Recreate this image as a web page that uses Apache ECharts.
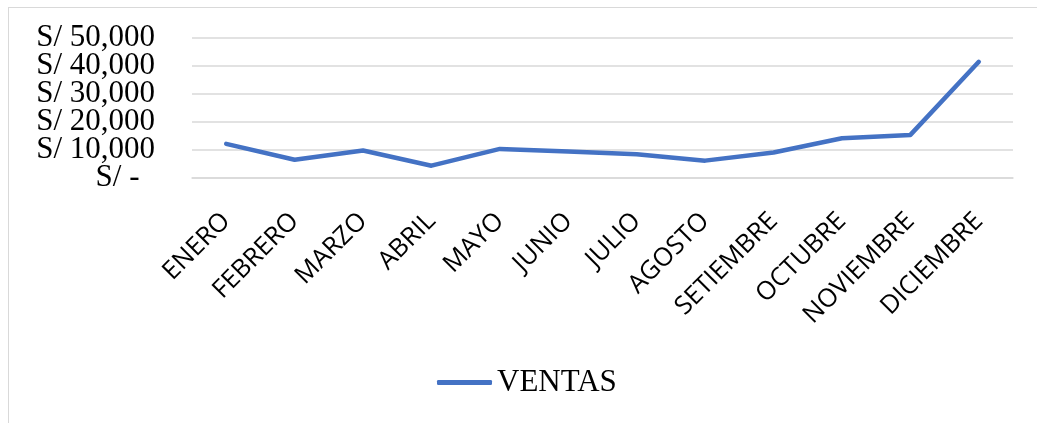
<!DOCTYPE html>
<html>
<head>
<meta charset="utf-8">
<script src="https://cdn.jsdelivr.net/npm/echarts@6/dist/echarts.min.js"></script>
<style>
  html, body { margin: 0; padding: 0; background: #fff; }
  #frame { position: absolute; left: 8px; top: 7px; right: 0; bottom: 0;
           border-top: 1.5px solid #d9d9d9; border-left: 1.5px solid #d9d9d9; }
  #main { width: 1037px; height: 423px; position: absolute; left: 0; top: 0; }
</style>
</head>
<body>
<div id="frame"></div>
<div id="main"></div>
<script>
// meses y ventas mensuales
var meses = ['ENERO', 'FEBRERO', 'MARZO', 'ABRIL', 'MAYO', 'JUNIO', 'JULIO',
             'AGOSTO', 'SETIEMBRE', 'OCTUBRE', 'NOVIEMBRE', 'DICIEMBRE'];
var ventas = [12200, 6500, 9800, 4400, 10400, 9500, 8500, 6200, 9100, 14200, 15400, 41500];
var serieNombre = 'VENTAS';
var yMin = 0, yMax = 50000, yPaso = 10000;

var myChart = echarts.init(document.getElementById('main'));

// formato contable: "S/ 10,000", y "S/ -" para el cero
function soles(v) {
    if (v === 0) return 'S/ -\u00a0\u00a0';
    return 'S/ ' + v.toLocaleString('en-US');
}

// las etiquetas del eje Y van muy juntas; se reparten en dos ejes
// (pares / impares) para que echarts no esconda ninguna por solape
function ejeY(par) {
    return {
        type: 'value',
        position: 'left',
        min: yMin,
        max: yMax,
        interval: yPaso,
        axisLine: { show: false },
        axisTick: { show: false },
        splitLine: { show: par, lineStyle: { color: '#d9d9d9', width: 1.5 } },
        axisLabel: {
            margin: 37,
            fontFamily: 'Liberation Serif',
            fontSize: 31,
            color: '#000',
            showMinLabel: par,
            showMaxLabel: !par,
            formatter: function (v) {
                return ((v / yPaso) % 2 === 0) === par ? soles(v) : '';
            }
        }
    };
}

myChart.setOption({
    animation: false,
    grid: { left: 192, right: 24, top: 38, bottom: 245 },
    legend: {
        left: 437,
        top: 367,
        padding: 0,
        itemWidth: 55,
        itemHeight: 5,
        icon: 'roundRect',
        data: [serieNombre],
        textStyle: { fontFamily: 'Liberation Serif', fontSize: 31, color: '#000' }
    },
    xAxis: {
        type: 'category',
        data: meses,
        boundaryGap: true,
        axisLine: { show: true, lineStyle: { color: '#d9d9d9', width: 1.5 } },
        axisTick: { show: false },
        axisLabel: {
            rotate: 45,
            margin: 39,
            interval: 0,
            fontFamily: 'Open Sans',
            fontSize: 25.5,
            color: '#000'
        }
    },
    yAxis: [ejeY(true), ejeY(false)],
    series: [{
        name: serieNombre,
        type: 'line',
        yAxisIndex: 0,
        data: ventas,
        symbol: 'none',
        lineStyle: { color: '#4472c4', width: 4.5, cap: 'round', join: 'round' },
        itemStyle: { color: '#4472c4' }
    }]
});
</script>
</body>
</html>
